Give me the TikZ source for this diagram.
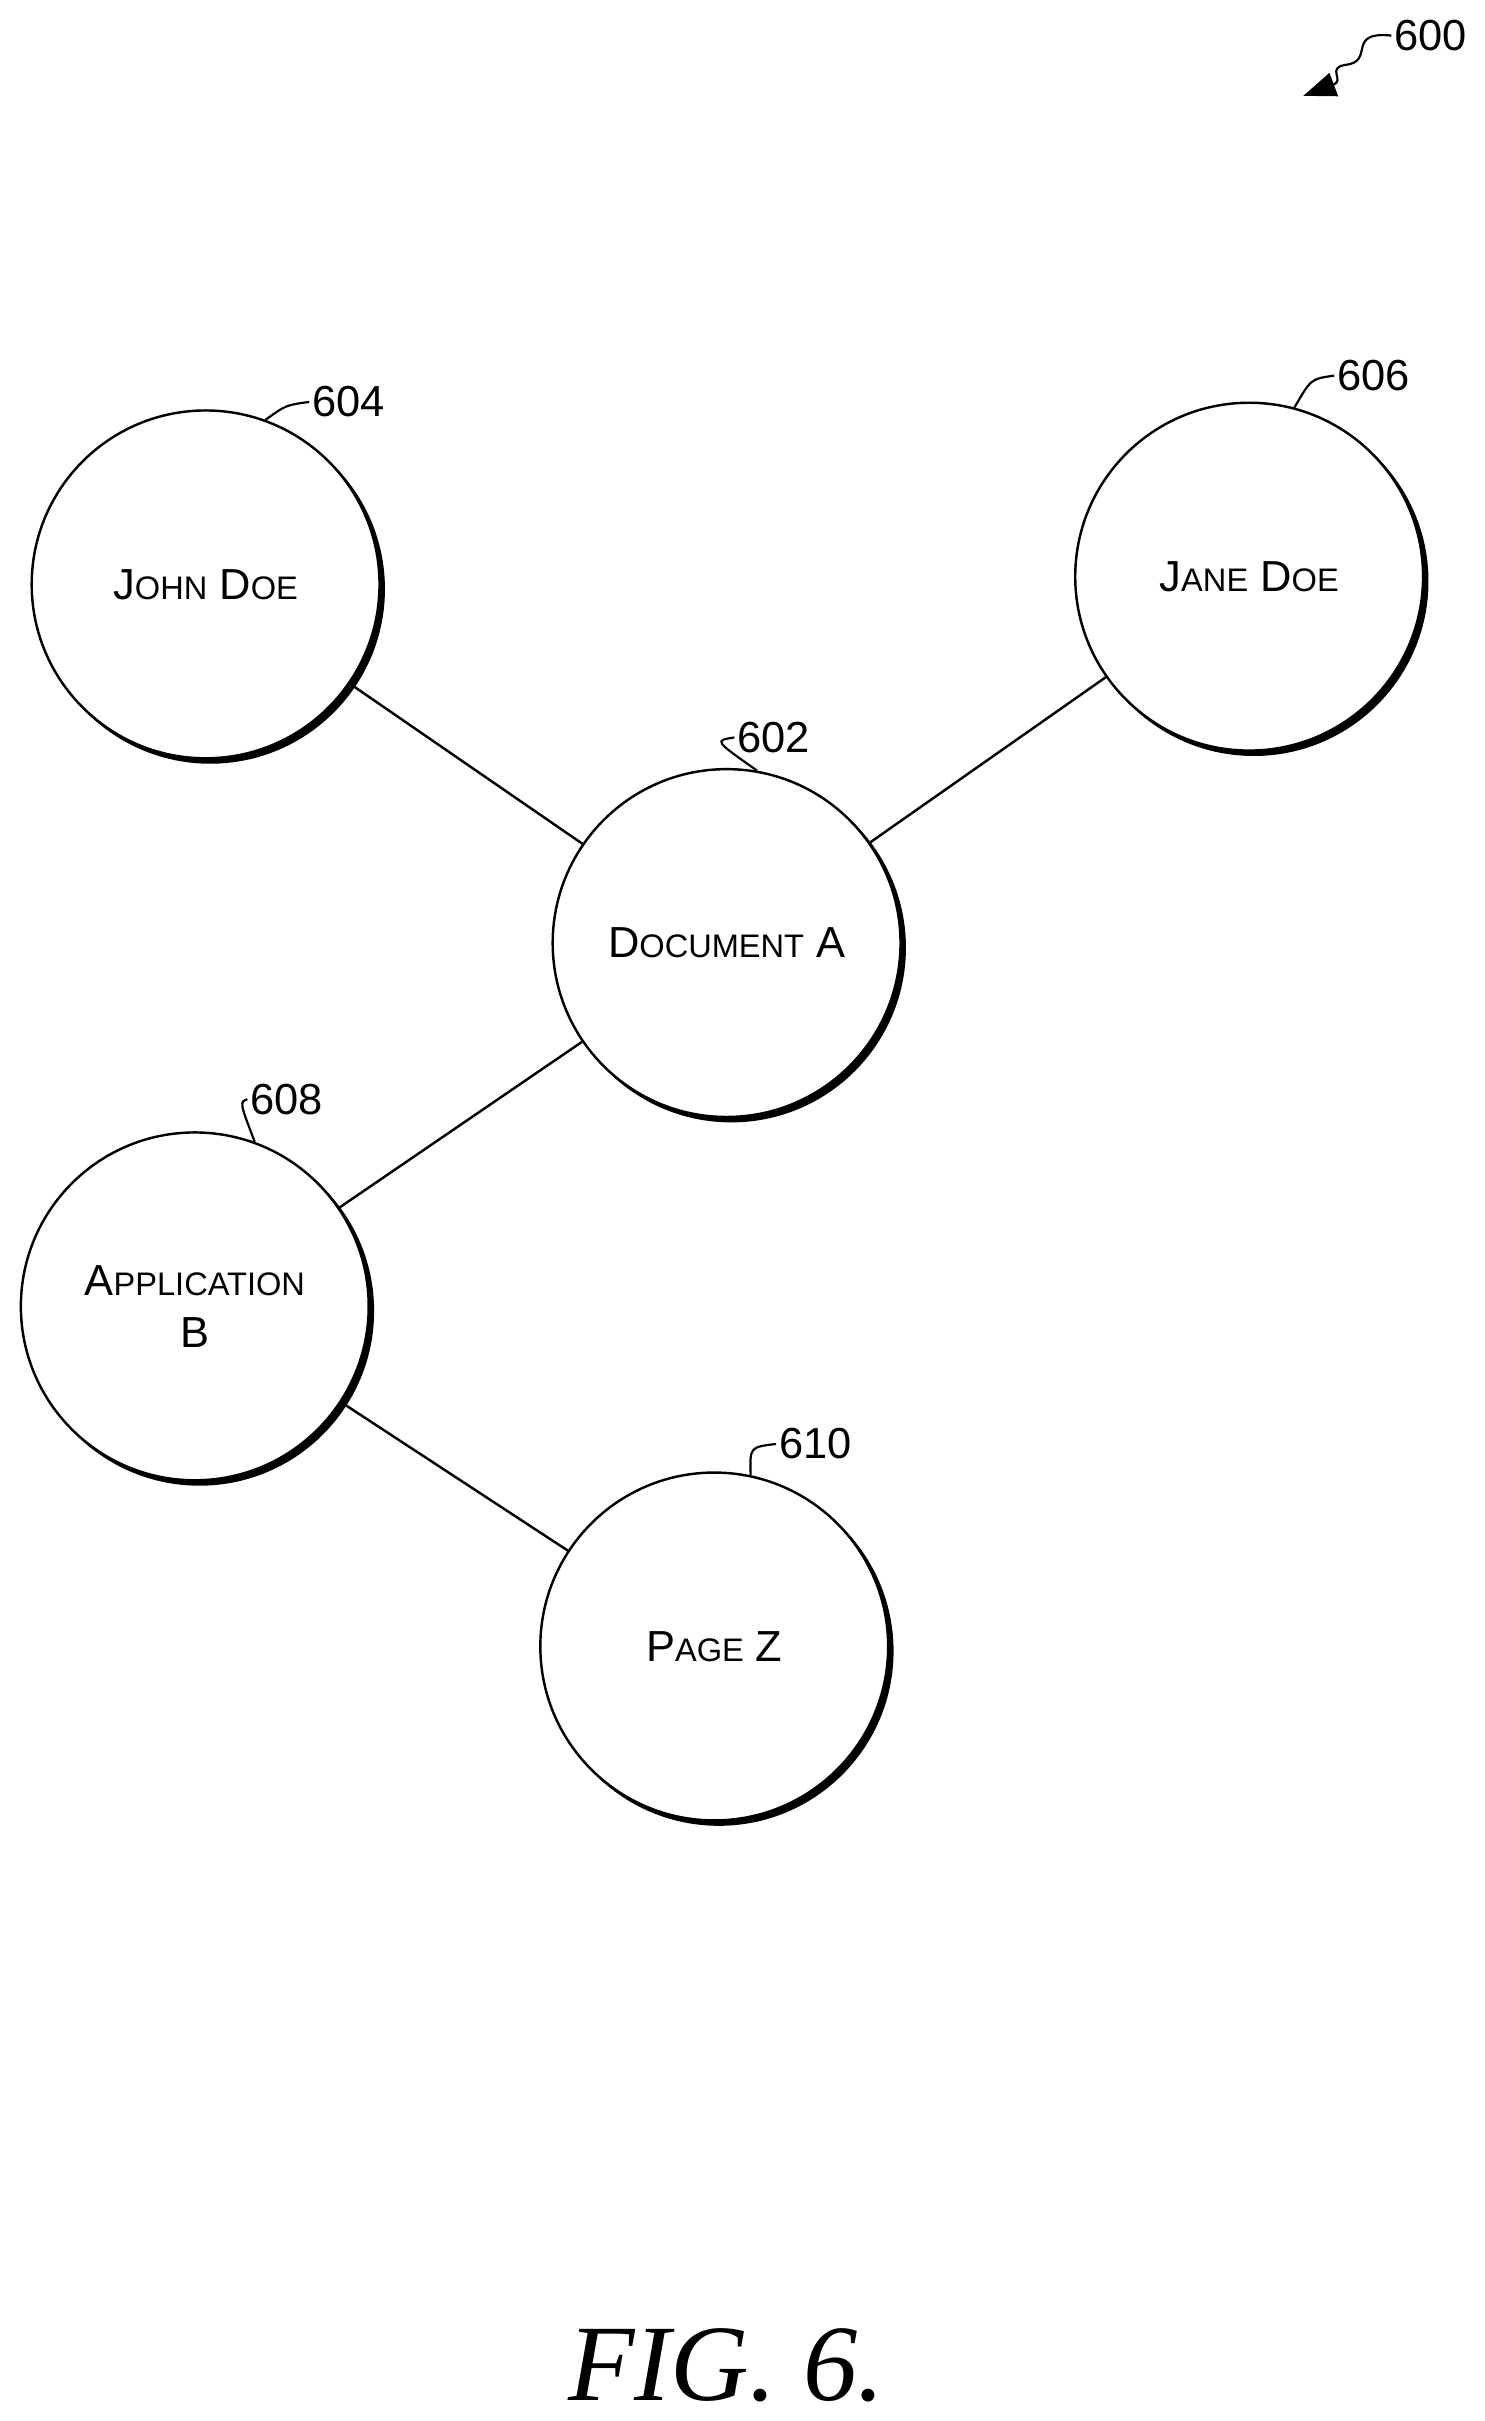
\documentclass[tikz,border=0pt]{standalone}
\usepackage{fontspec}
\setmainfont{Liberation Sans}
\usetikzlibrary{arrows.meta}
\begin{document}
\begin{tikzpicture}[x=0.02cm,y=-0.02cm,
  nd/.style={circle,draw,line width=0.9pt,fill=white,minimum size=225*0.02cm,inner sep=0pt,align=center,font=\fontsize{16}{19}\selectfont},
  lbl/.style={font=\fontsize{16}{19}\selectfont,anchor=west,inner sep=1pt},
  ld/.style={line width=0.8pt}]
\useasboundingbox (0,0) rectangle (960,1566);
\foreach \x/\y in {133/378,808/373,470/610,126/845,462/1065}{
  \fill[black] (\x+3,\y+3) circle (113);
}
\node[nd] (jd) at (133,378) {J{\fontsize{12}{14}\selectfont OHN} D{\fontsize{12}{14}\selectfont OE}};
\node[nd] (ja) at (808,373) {J{\fontsize{12}{14}\selectfont ANE} D{\fontsize{12}{14}\selectfont OE}};
\node[nd] (da) at (470,610) {D{\fontsize{12}{14}\selectfont OCUMENT} A};
\node[nd] (ab) at (126,845) {A{\fontsize{12}{14}\selectfont PPLICATION}\\B};
\node[nd] (pz) at (462,1065) {P{\fontsize{12}{14}\selectfont AGE} Z};
\draw[line width=0.9pt] (jd) -- (da);
\draw[line width=0.9pt] (ja) -- (da);
\draw[line width=0.9pt] (da) -- (ab);
\draw[line width=0.9pt] (ab) -- (pz);
\node[lbl] (l604) at (200,260) {604};
\node[lbl] (l606) at (863,243) {606};
\node[lbl] (l602) at (475,477) {602};
\node[lbl] (l608) at (160,711) {608};
\node[lbl] (l610) at (502,934) {610};
\node[lbl] (l600) at (900,23) {600};
\draw[ld] (jd.70) .. controls (185,262) .. (l604.west);
\draw[ld] (ja.75) .. controls (848,245) .. (l606.west);
\draw[ld] (da.80) .. controls (462,479) .. (l602.west);
\draw[ld] (ab.70) .. controls (155,713) .. (l608.west);
\draw[ld] (pz.78) .. controls (485,936) .. (l610.west);
\coordinate (a600) at (843,62);
\draw[ld,-{Triangle[length=12pt,width=9pt]}] (l600.west) .. controls (870,20) and (890,40) .. (870,42) .. controls (858,44) and (870,52) .. (a600);
\node[font=\fontsize{40}{44}\selectfont\itshape\fontspec{Liberation Serif}] (fig) at (470,1530) {FIG. 6.};
\end{tikzpicture}
\end{document}
